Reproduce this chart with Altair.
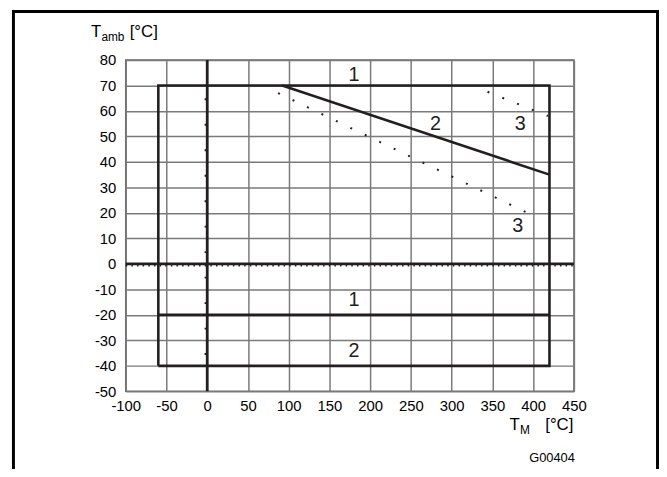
import altair as alt
import pandas as pd

FONT = "Liberation Sans"
INK = "#231f20"

x_ticks = list(range(-100, 451, 50))
y_ticks = list(range(-50, 81, 10))

# boundary 1/2 outer rectangle (left, top, right, bottom at -40)
outer_x = [-60, -60, 420, 420, -60]
outer_y = [-40, 70, 70, -40, -40]
# curve 1 lower limit
low1_x = [-60, 420]
low1_y = [-20, -20]
# curve 2 upper sloped limit
slope2_x = [92, 420]
slope2_y = [70, 35]
# curve 3 dotted lines
dot3a_x = [87, 406]
dot3a_y = [67, 18]
dot3b_x = [344, 418]
dot3b_y = [67.5, 58]
# axes through zero
zero_v_x = [0, 0]
zero_v_y = [-50, 80]
zero_h_x = [-100, 450]
zero_h_y = [0, 0]
# dotted helper lines near zero
dotv_x = [-2, -2]
dotv_y = [65, -45]
doth_x = [-100, 450]
doth_y = [-0.7, -0.7]

label_text = ["1", "2", "3", "3", "1", "2"]
label_x = [180, 280, 384, 381, 180, 180]
label_y = [74, 55, 55, 15, -14, -34]

xs = alt.Scale(domain=[-100, 450], nice=False, zero=False)
ys = alt.Scale(domain=[-50, 80], nice=False, zero=False)
common = dict(
    title=None, grid=True, ticks=False, domain=False,
    labelFont=FONT, labelFontSize=15, labelColor="black",
    gridColor="#7a7a7a", gridWidth=1.5, labelFlush=False,
    labelExpr="'' + datum.value",
)
x_axis = alt.Axis(values=x_ticks, labelPadding=7, **common)
y_axis = alt.Axis(values=y_ticks, labelPadding=10, **common)


def X(field="x:Q"):
    return alt.X(field, scale=xs, axis=x_axis)


def Y(field="y:Q"):
    return alt.Y(field, scale=ys, axis=y_axis)


def path(xv, yv):
    return pd.DataFrame({"x": xv, "y": yv, "i": list(range(len(xv)))})


def line_layer(xv, yv, width=2.6, dash=None, color=INK):
    kw = dict(color=color, strokeWidth=width, clip=False)
    if dash is not None:
        kw["strokeDash"] = dash
    return alt.Chart(path(xv, yv)).mark_line(**kw).encode(
        x=X(), y=Y(), order="i:Q",
    )


layers = [
    line_layer(doth_x, doth_y, width=1.5, dash=[1.5, 4.2]),
    line_layer(dotv_x, dotv_y, width=2, dash=[2, 23.77]),
    line_layer(zero_h_x, zero_h_y, width=2.8),
    line_layer(zero_v_x, zero_v_y, width=2.8),
    line_layer(outer_x, outer_y),
    line_layer(low1_x, low1_y),
    line_layer(slope2_x, slope2_y),
    line_layer(dot3a_x, dot3a_y, width=2, dash=[2, 14.2]),
    line_layer(dot3b_x, dot3b_y, width=2, dash=[2, 14.1]),
]

labels = alt.Chart(pd.DataFrame({"t": label_text, "x": label_x, "y": label_y})).mark_text(
    font=FONT, fontSize=20, color=INK, baseline="middle", align="center"
).encode(x=X(), y=Y(), text="t:N")
layers.append(labels)

one = alt.Data(values=[{"a": 1}])


def txt(s, x, y, size, align="left"):
    return alt.Chart(one).mark_text(
        text=s, font=FONT, fontSize=size, color="black", align=align,
        baseline="alphabetic", clip=False
    ).encode(x=alt.value(x), y=alt.value(y))


# y-axis title  T_amb [°C]
layers += [
    txt("T", -35, -23, 17),
    txt("amb", -24.6, -19, 12),
    txt("[°C]", 4, -23, 17),
]
# x-axis title  T_M [°C]
layers += [
    txt("T", 388, 374, 17),
    txt("M", 398.6, 378, 12),
    txt("[°C]", 424, 374, 17),
    txt("G00404", 454, 406, 13, align="right"),
]

# outer frame
frame = alt.Chart(one).mark_rect(
    fill=None, stroke="black", strokeWidth=3, clip=False
).encode(
    x=alt.value(-113.5), x2=alt.value(537.5),
    y=alt.value(-49), y2=alt.value(480),
)
layers.append(frame)

chart = alt.layer(*layers).properties(
    width=453, height=335,
    background="white",
    autosize=alt.AutoSizeParams(type="none"),
    padding={"left": 119, "top": 50, "right": 86, "bottom": 76},
).configure_view(stroke="#6a6a6a", strokeWidth=1.5)

chart.save("out.html", embed_options={"renderer": "svg", "actions": False})
